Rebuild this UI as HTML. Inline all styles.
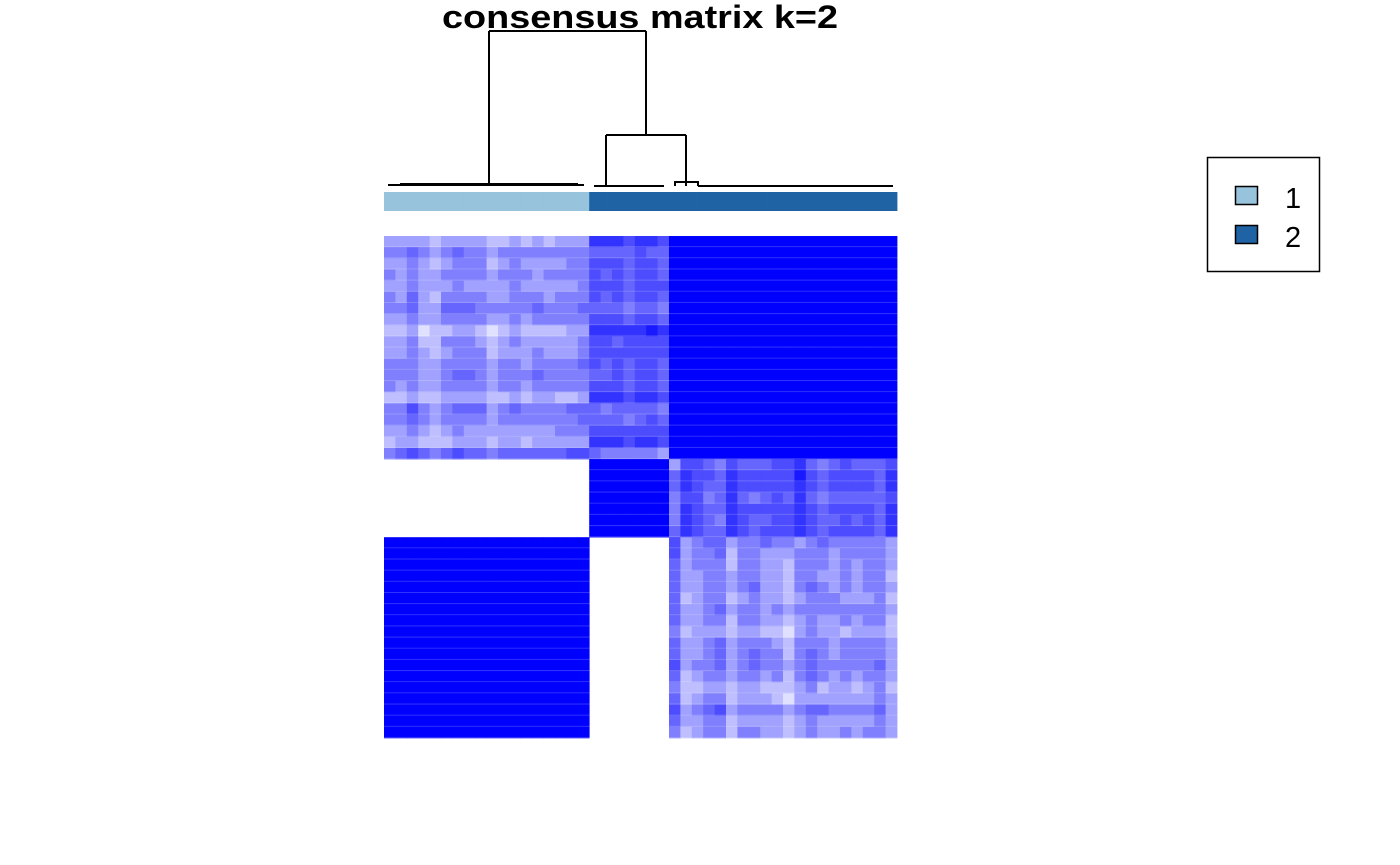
<!DOCTYPE html>
<html><head><meta charset="utf-8"><style>
html,body{margin:0;padding:0;background:#fff;}
svg{display:block;font-family:"Liberation Sans",Arial,sans-serif;}
</style></head><body>
<svg id="chart" width="1400" height="865" viewBox="0 0 1400 865">
<text x="640" y="28" text-anchor="middle" font-size="32" font-weight="bold" textLength="396" lengthAdjust="spacingAndGlyphs">consensus matrix k=2</text>
<g id="dendro" stroke="#000" stroke-width="2" fill="none">
<path d="M489 31 H646 M489 31 V185 M646 31 V135 M606 135 H686 M606 135 V186 M686 135 V182"/>
<path d="M388 185 H584 M400 184 H578 M594 186 H664 M675 186 V182 H698 V186 M686 182 V186 M698 186 H893"/>
</g>
<g id="annot"></g>
<g id="heat"></g>
<g>
<rect x="1207.5" y="157.5" width="112" height="114" fill="#fff" stroke="#000" stroke-width="1.5"/>
<rect x="1235.5" y="186.5" width="22" height="18" fill="#97c3dc" stroke="#000" stroke-width="1.5"/>
<rect x="1235.5" y="225.5" width="22" height="18" fill="#1f63a5" stroke="#000" stroke-width="1.5"/>
<text x="1285" y="208" font-size="29">1</text>
<text x="1285" y="247" font-size="29">2</text>
</g>
</svg>
<script>
// level index -> consensus value
const levels = [0.12,0.25,0.37,0.5,0.6,0.7,0.8,0.9,1];
// column cluster assignment (left to right)
const colClusters = [].concat(Array(18).fill(1), Array(27).fill(2));
const clusterColors = ["#97c3dc","#1f63a5"];
// top block rows: cols 1-18 light, cols 19-25 mid, cols 26-45 = 1
const topLeft = [
"222212222112121222","334323433233333333","223212333123222233","323223333233323333","223222322223222223",
"324213333223332333","334224443333343334","223223333223233333","112011221012111122","223113332123222223",
"223212333122232223","333223333233233334","333223443233343333","323223333233233333","112112222112122112",
"335323444234333344","334323333233333334","223212322222222333","122111222122122222","345434544344444455"];
const topMid = ["6665665","4444544","5554554","5454554","5554555","5454554","4443443","5554554","6666676","5545555",
"5555555","5454554","4454554","5554554","6665665","4344443","4443454","5555555","6665665","4333332"];
// middle block rows: cols 1-18 = 0 (white), 19-25 = 1, 26-45 mid
const midRight = ["25543544455643454445","46554655555754555546","46544655555654555546","35534643454643444445",
"36544655555654555546","36543654455654454546","46544654555654555546"];
// bottom block rows: cols 1-18 = 1, 19-25 = 0, 26-45 light
const botRight = ["52344233433234333332","52334133222333233332","42333133221333232332","42233233221332232331",
"42233234221343232332","41233123221233322231","42234233232333333332","42233133221232232331",
"31222122110232212221","42234233321333233332","42234234331343233332","52334234332343333342",
"41233233231343232332","31122122111231221231","41233122210222222232","52345233332344333342",
"42233122221232222232","31233133221232232332"];

const X0=384, X1=897, Y0=236, Y1=738, N=45;
const cw=(X1-X0)/N, rh=(Y1-Y0)/N;
const xPos=c=>X0+c*cw, yPos=r=>Y0+r*rh;
function color(v){const c=Math.round(255*(1-v));return `rgb(${c},${c},255)`;}
const NS="http://www.w3.org/2000/svg";
const rows=[];
topLeft.forEach((s,i)=>rows.push([...s].map(d=>levels[+d]).concat([...topMid[i]].map(d=>levels[+d]),Array(20).fill(1))));
midRight.forEach(s=>rows.push(Array(18).fill(0).concat(Array(7).fill(1),[...s].map(d=>levels[+d]))));
botRight.forEach(s=>rows.push(Array(18).fill(1).concat(Array(7).fill(0),[...s].map(d=>levels[+d]))));
const heat=document.getElementById('heat');
rows.forEach((row,r)=>{row.forEach((v,c)=>{
  if(v<=0) return;
  const rc=document.createElementNS(NS,'rect');
  rc.setAttribute('x',xPos(c));rc.setAttribute('y',yPos(r));
  rc.setAttribute('width',cw+0.4);rc.setAttribute('height',rh+0.3);
  rc.setAttribute('fill',color(v));
  
  
  heat.appendChild(rc);
  const ln=document.createElementNS(NS,'rect');
  ln.setAttribute('x',xPos(c));ln.setAttribute('y',yPos(r+1)-1);
  ln.setAttribute('width',cw+0.4);ln.setAttribute('height',1);
  ln.setAttribute('fill','rgba(255,255,255,0.2)');
  
  
  heat.appendChild(ln);
});});
const annot=document.getElementById('annot');
colClusters.forEach((k,c)=>{
  const rc=document.createElementNS(NS,'rect');
  rc.setAttribute('x',xPos(c));rc.setAttribute('y',192);
  rc.setAttribute('width',cw+0.4);rc.setAttribute('height',19);
  rc.setAttribute('fill',clusterColors[k-1]);
  
  
  annot.appendChild(rc);
});
</script>
</body></html>
